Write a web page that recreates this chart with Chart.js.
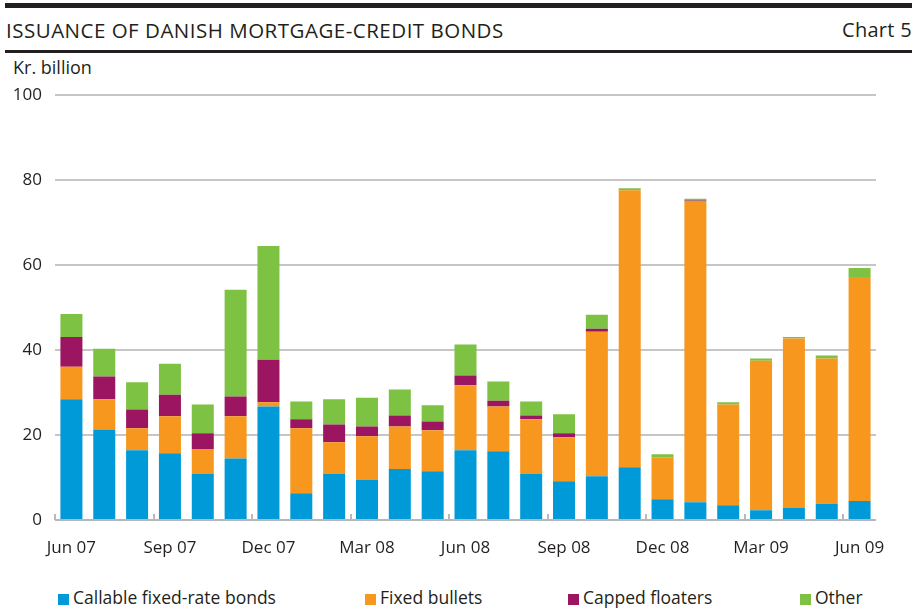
<!DOCTYPE html>
<html>
<head>
<meta charset="utf-8">
<style>
body { margin: 0; background: #fff; }
#wrap { position: relative; width: 920px; height: 610px; overflow: hidden; font-family: 'Open Sans', sans-serif; color: #231f20; }
.bar-top { position: absolute; left: 5px; top: 3px; width: 907px; height: 5px; background: #231f20; }
.bar-mid { position: absolute; left: 5px; top: 50px; width: 907px; height: 3px; background: #231f20; }
.title { position: absolute; left: 6px; top: 16px; font-size: 20.5px; letter-spacing: 0.5px; line-height: 28px; white-space: nowrap; }
.chartno { position: absolute; right: 8px; top: 16px; font-size: 20px; letter-spacing: 0.3px; line-height: 28px; }
.unit { position: absolute; left: 13px; top: 55px; font-size: 18px; line-height: 24px; }
#box { position: absolute; left: 0; top: 72px; width: 920px; height: 498px; }
.leg { position: absolute; top: 585px; font-size: 17.5px; line-height: 24px; white-space: nowrap; }
.leg i { display: inline-block; width: 11px; height: 11px; margin-right: 4px; vertical-align: -1px; }
</style>
<script src="https://cdn.jsdelivr.net/npm/chart.js@4.4.1/dist/chart.umd.min.js"></script>
</head>
<body>
<div id="wrap">
    <div class="bar-top"></div>
    <div class="title">ISSUANCE OF DANISH MORTGAGE-CREDIT BONDS</div>
    <div class="chartno">Chart 5</div>
    <div class="bar-mid"></div>
    <div class="unit">Kr. billion</div>
    <div id="box"><canvas id="c"></canvas></div>
    <div class="leg" style="left:58px"><i style="background:#009ad8"></i>Callable fixed-rate bonds</div>
    <div class="leg" style="left:365px"><i style="background:#f7971d"></i>Fixed bullets</div>
    <div class="leg" style="left:568px"><i style="background:#9b1560"></i>Capped floaters</div>
    <div class="leg" style="left:800px"><i style="background:#7dc242"></i>Other</div>
</div>

<script>
// Data (kr. billion)
const months = ['Jun 07', 'Jul 07', 'Aug 07', 'Sep 07', 'Oct 07', 'Nov 07', 'Dec 07', 'Jan 08', 'Feb 08',
    'Mar 08', 'Apr 08', 'May 08', 'Jun 08', 'Jul 08', 'Aug 08', 'Sep 08', 'Oct 08', 'Nov 08', 'Dec 08',
    'Jan 09', 'Feb 09', 'Mar 09', 'Apr 09', 'May 09', 'Jun 09'];
const callable = [28.4, 21.3, 16.4, 15.7, 10.8, 14.5, 26.7, 6.3, 10.8, 9.4, 12.0, 11.5, 16.4,
    16.2, 10.8, 9.1, 10.3, 12.4, 4.9, 4.2, 3.5, 2.3, 2.8, 3.8, 4.5];
const bullets = [7.7, 7.1, 5.2, 8.7, 5.8, 9.9, 1.0, 15.3, 7.5, 10.3, 10.0, 9.6, 15.3,
    10.5, 12.9, 10.4, 34.0, 65.2, 9.9, 70.8, 23.7, 35.2, 39.9, 34.2, 52.7];
const capped = [7.0, 5.4, 4.4, 5.1, 3.8, 4.7, 10.0, 2.1, 4.2, 2.3, 2.6, 2.1, 2.3,
    1.4, 0.9, 0.9, 0.7, 0, 0, 0.2, 0, 0, 0, 0, 0];
const other = [5.4, 6.5, 6.4, 7.3, 6.8, 25.1, 26.8, 4.2, 5.9, 6.8, 6.1, 3.8, 7.3,
    4.5, 3.3, 4.5, 3.3, 0.5, 0.7, 0.4, 0.5, 0.5, 0.4, 0.7, 2.1];
const yTicks = [0, 20, 40, 60, 80, 100];

const FONT = "'Open Sans', sans-serif";
const TEXT = '#231f20';

// small upward tick marks at the start of every quarter label
const quarterTicks = {
    id: 'quarterTicks',
    afterDraw(chart) {
        const x = chart.scales.x;
        const ctx = chart.ctx;
        const half = (x.getPixelForValue(1) - x.getPixelForValue(0)) / 2;
        const bottom = chart.chartArea.bottom;
        ctx.save();
        ctx.strokeStyle = '#b9b9b9';
        ctx.lineWidth = 2;
        for (let i = 0; i < months.length; i += 3) {
            const px = Math.round(x.getPixelForValue(i) - half);
            ctx.beginPath();
            ctx.moveTo(px, bottom - 6);
            ctx.lineTo(px, bottom);
            ctx.stroke();
        }
        ctx.restore();
    }
};

function ds(label, data, color) {
    return { label: label, data: data, backgroundColor: color, borderWidth: 0,
        barPercentage: 0.67, categoryPercentage: 1.0 };
}

new Chart(document.getElementById('c'), {
    type: 'bar',
    data: {
        labels: months,
        datasets: [
            ds('Callable fixed-rate bonds', callable, '#009ad8'),
            ds('Fixed bullets', bullets, '#f7971d'),
            ds('Capped floaters', capped, '#9b1560'),
            ds('Other', other, '#7dc242')
        ]
    },
    options: {
        responsive: true,
        maintainAspectRatio: false,
        animation: false,
        layout: { padding: { left: 0, right: 44, top: 14, bottom: 0 } },
        plugins: { legend: { display: false }, tooltip: { enabled: false } },
        scales: {
            x: {
                stacked: true,
                offset: true,
                border: { display: false },
                grid: { display: false },
                afterFit(s) { s.height = 50; },
                ticks: {
                    autoSkip: false,
                    maxRotation: 0,
                    padding: 10,
                    color: TEXT,
                    font: { family: FONT, size: 17 },
                    callback: function(v, i) { return i % 3 === 0 ? months[i] : ''; }
                }
            },
            y: {
                stacked: true,
                min: 0,
                max: 100,
                border: { display: false },
                afterFit(s) { s.width = 55; },
                afterBuildTicks(s) { s.ticks = yTicks.map(v => ({ value: v })); },
                grid: {
                    drawTicks: false,
                    lineWidth: 2,
                    color: c => c.tick && c.tick.value === 0 ? '#b3b8bd' : '#c6c6c6'
                },
                ticks: {
                    padding: 13,
                    color: TEXT,
                    font: { family: FONT, size: 17 }
                }
            }
        }
    },
    plugins: [quarterTicks]
});
</script>
</body>
</html>
